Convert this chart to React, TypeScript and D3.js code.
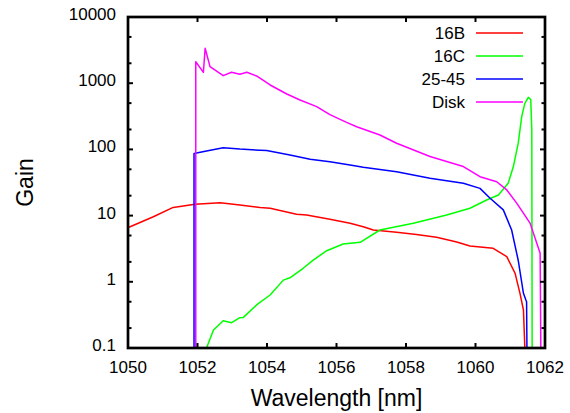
import { useEffect, useRef } from 'react';
import * as d3 from 'd3';

// wavelength [nm], gain
const gain16B: [number, number][] = [
  [1050, 6.6], [1050.06, 6.8], [1050.73, 9.6], [1051.3, 13.3], [1051.93, 14.8],
  [1052.65, 15.7], [1053.22, 14.5], [1053.8, 13.3], [1054.09, 12.9], [1054.85, 10.5],
  [1055.14, 10.2], [1055.81, 8.8], [1056.39, 7.65], [1056.77, 6.8], [1057.06, 6.06],
  [1057.73, 5.6], [1058.3, 5.2], [1058.88, 4.7], [1059.46, 4.0], [1059.84, 3.47],
  [1060.51, 3.2], [1060.9, 2.4], [1061.14, 1.34], [1061.28, 0.67], [1061.38, 0.375],
  [1061.42, 0.1],
];

const gain16C: [number, number][] = [
  [1052.26, 0.1], [1052.46, 0.187], [1052.74, 0.258], [1052.98, 0.241], [1053.22, 0.287],
  [1053.32, 0.29], [1053.7, 0.447], [1054.09, 0.632], [1054.47, 1.06], [1054.66, 1.15],
  [1055.04, 1.6], [1055.33, 2.13], [1055.72, 2.95], [1056.19, 3.72], [1056.68, 3.95],
  [1057.25, 6.06], [1058.21, 7.65], [1059.17, 10.2], [1059.84, 12.9], [1060.32, 17.2],
  [1060.66, 20.5], [1060.94, 30.8], [1061.09, 55], [1061.23, 124], [1061.33, 312],
  [1061.42, 497], [1061.52, 612], [1061.59, 565], [1061.62, 196], [1061.63, 0.1],
];

const gain2545: [number, number][] = [
  [1051.9, 0.1], [1051.9, 87], [1052.26, 94.6], [1052.74, 106], [1053.22, 101],
  [1053.99, 96], [1054.66, 82], [1055.24, 71], [1055.81, 65], [1056.39, 58],
  [1056.77, 53.6], [1057.73, 46], [1058.69, 36.6], [1059.65, 30.8], [1060.13, 25.8],
  [1060.42, 18.3], [1060.8, 12.2], [1061.04, 6.06], [1061.23, 2.1], [1061.38, 0.67],
  [1061.45, 0.53], [1061.47, 0.5], [1061.48, 0.1],
];

const gainDisk: [number, number][] = [
  [1051.95, 0.1], [1051.95, 2113], [1052.17, 1460], [1052.22, 3367], [1052.36, 1778],
  [1052.74, 1300], [1052.98, 1460], [1053.22, 1362], [1053.42, 1460], [1053.7, 1285],
  [1054.09, 940], [1054.57, 687], [1054.95, 557], [1055.43, 442], [1055.81, 335],
  [1056.29, 256], [1056.58, 220], [1057.25, 165], [1057.73, 124], [1058.69, 78],
  [1059.65, 55], [1060.13, 38.7], [1060.61, 32.5], [1060.9, 24.4], [1061.19, 15.3],
  [1061.57, 7.7], [1061.86, 2.7], [1061.88, 0.1],
];

const seriesNames = ['16B', '16C', '25-45', 'Disk'];
const seriesColors = ['#ff0000', '#00ff00', '#0000ff', '#ff00ff'];
const seriesData = [gain16B, gain16C, gain2545, gainDisk];

const xTicks = [1050, 1052, 1054, 1056, 1058, 1060, 1062];
const yTicks = [0.1, 1, 10, 100, 1000, 10000];
const yTickLabels = ['0.1', '1', '10', '100', '1000', '10000'];

const App = () => {
  const svgRef = useRef<SVGSVGElement>(null);

  useEffect(() => {
    const width = 570;
    const height = 413;
    const margin = { top: 17, right: 25, bottom: 65, left: 128 };
    const fontFamily = 'Liberation Sans, Arial, Helvetica, sans-serif';

    const svg = d3.select(svgRef.current)
      .attr('width', width)
      .attr('height', height);
    svg.selectAll('*').remove();

    const x = d3.scaleLinear()
      .domain([1050, 1062])
      .range([margin.left, width - margin.right]);
    const y = d3.scaleLog()
      .domain([0.1, 10000])
      .range([height - margin.bottom, margin.top]);

    const [x0, x1] = x.range();
    const [y0, y1] = y.range();

    svg.append('defs').append('clipPath').attr('id', 'plot-clip')
      .append('rect')
      .attr('x', x0).attr('y', y1)
      .attr('width', x1 - x0).attr('height', y0 - y1);

    // curves
    const line = d3.line<[number, number]>()
      .x(d => x(d[0]))
      .y(d => y(d[1]));

    const curves = svg.append('g').attr('clip-path', 'url(#plot-clip)');
    seriesData.forEach((data, i) => {
      curves.append('path')
        .datum(data)
        .attr('d', line)
        .attr('fill', 'none')
        .attr('stroke', seriesColors[i])
        .attr('stroke-width', 1.5)
        .attr('stroke-linejoin', 'round');
    });

    // ticks (inward on all four sides)
    const ticks = svg.append('g').attr('stroke', '#000').attr('stroke-width', 2);
    xTicks.forEach(t => {
      ticks.append('line').attr('x1', x(t)).attr('x2', x(t)).attr('y1', y0).attr('y2', y0 - 5);
      ticks.append('line').attr('x1', x(t)).attr('x2', x(t)).attr('y1', y1).attr('y2', y1 + 5);
    });
    const minorY: number[] = [];
    yTicks.slice(0, -1).forEach(t => { minorY.push(t * 2, t * 5); });
    yTicks.forEach(t => {
      ticks.append('line').attr('x1', x0).attr('x2', x0 + 5).attr('y1', y(t)).attr('y2', y(t));
      ticks.append('line').attr('x1', x1).attr('x2', x1 - 5).attr('y1', y(t)).attr('y2', y(t));
    });
    minorY.forEach(t => {
      ticks.append('line').attr('x1', x0).attr('x2', x0 + 3.5).attr('y1', y(t)).attr('y2', y(t));
      ticks.append('line').attr('x1', x1).attr('x2', x1 - 3.5).attr('y1', y(t)).attr('y2', y(t));
    });

    // frame
    svg.append('rect')
      .attr('x', x0).attr('y', y1)
      .attr('width', x1 - x0).attr('height', y0 - y1)
      .attr('fill', 'none')
      .attr('stroke', '#000')
      .attr('stroke-width', 2.7);

    // tick labels
    svg.append('g').selectAll('text')
      .data(xTicks)
      .enter()
      .append('text')
      .attr('x', d => x(d))
      .attr('y', y0 + 25)
      .attr('text-anchor', 'middle')
      .attr('font-family', fontFamily)
      .attr('font-size', 17)
      .text(d => String(d));

    svg.append('g').selectAll('text')
      .data(yTicks)
      .enter()
      .append('text')
      .attr('x', x0 - 12)
      .attr('y', d => y(d) + 3)
      .attr('text-anchor', 'end')
      .attr('font-family', fontFamily)
      .attr('font-size', 17)
      .text((d, i) => yTickLabels[i]);

    // axis titles
    svg.append('text')
      .attr('x', (x0 + x1) / 2)
      .attr('y', 406)
      .attr('text-anchor', 'middle')
      .attr('font-family', fontFamily)
      .attr('font-size', 23)
      .text('Wavelength [nm]');

    svg.append('text')
      .attr('transform', `translate(33, ${(y0 + y1) / 2}) rotate(-90)`)
      .attr('text-anchor', 'middle')
      .attr('font-family', fontFamily)
      .attr('font-size', 23)
      .text('Gain');

    // legend
    const legend = svg.append('g');
    seriesNames.forEach((name, i) => {
      const ly = 33 + i * 23;
      legend.append('text')
        .attr('x', 465)
        .attr('y', ly + 6)
        .attr('text-anchor', 'end')
        .attr('font-family', fontFamily)
        .attr('font-size', 17)
        .text(name);
      legend.append('line')
        .attr('x1', 476).attr('x2', 523)
        .attr('y1', ly).attr('y2', ly)
        .attr('stroke', seriesColors[i])
        .attr('stroke-width', 1.5);
    });
  }, []);

  return <svg ref={svgRef} style={{ position: 'absolute', left: 0, top: 0 }}></svg>;
};

export default App;
